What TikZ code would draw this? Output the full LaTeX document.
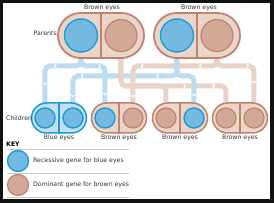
\documentclass[tikz,border=0pt]{standalone}
\usepackage{fontspec}
\setmainfont{DejaVu Sans}
\usetikzlibrary{
	arrows.meta, shapes.misc, backgrounds, decorations.markings
}
\definecolor{frameblack}{RGB}{17, 17, 17}
\definecolor{capbeige}  {RGB}{234, 214, 200}
\definecolor{capbrown}  {RGB}{192, 131, 112}
\definecolor{genebrown} {RGB}{210, 168, 150}
\definecolor{geneblue}  {RGB}{116, 185, 224}
\definecolor{edgeblue}  {RGB}{ 30, 154, 214}
\definecolor{capblue}   {RGB}{196, 224, 243}
\definecolor{wayblue}   {RGB}{188, 220, 241}
\definecolor{waybrown}  {RGB}{231, 211, 200}
\definecolor{textgray}  {RGB}{ 50,  50,  50}
\definecolor{rulegray}  {RGB}{200, 200, 200}

\tikzset{
	lbl/.style={font=\fontsize{6.2}{7}\selectfont, text=textgray, inner sep=0pt},
	parent/.style={rounded rectangle, draw=capbrown, fill=capbeige, line width=1.8pt,
		minimum width=86pt, minimum height=45pt, inner sep=0pt},
	kid/.style={parent, minimum width=55pt, minimum height=30pt, line width=1.5pt},
	bluekid/.style={kid, draw=edgeblue, fill=capblue},
	browngene/.style={circle, draw=capbrown, fill=genebrown, line width=1.2pt, inner sep=0pt, minimum size=#1},
	bluegene/.style={circle, draw=edgeblue, fill=geneblue, line width=1.4pt, inner sep=0pt, minimum size=#1},
	blueway/.style={draw=wayblue, line width=5pt, rounded corners=5pt},
	brownway/.style={draw=waybrown, line width=5pt, rounded corners=5pt},
	tip/.style={postaction={decorate, decoration={markings, mark=at position #1 with
		{\draw[white, line width=1pt, rounded corners=0pt, sharp corners]
			(-1pt,2pt) -- (0.8pt,0pt) -- (-1pt,-2pt);}}}},
	keyrule/.style={draw=rulegray, line width=0.6pt}
}

\begin{document}
\begin{tikzpicture}[x=1pt, y=-1pt]
	\useasboundingbox (0,0) rectangle (274,203);

	% parents
	\node[parent] (par1) at (101,35.5) {};
	\node[parent] (par2) at (197,35.5) {};
	\draw[capbrown, line width=1.5pt] (par1.north) -- (par1.south);
	\draw[capbrown, line width=1.5pt] (par2.north) -- (par2.south);
	\node[bluegene=33pt] (p1l) at (81,35.5) {};
	\node[browngene=32pt] (p1r) at (121,35.5) {};
	\node[bluegene=33pt] (p2l) at (177,35.5) {};
	\node[browngene=32pt] (p2r) at (217,35.5) {};
	\node[lbl] (par1t) at (102,8) {Brown eyes};
	\node[lbl] (par2t) at (199,8) {Brown eyes};
	\node[lbl, anchor=east] (parlbl) at (57,33) {Parents};

	% children
	\node[bluekid] (kid1) at (59,118) {};
	\node[kid] (kid2) at (119,118) {};
	\node[kid] (kid3) at (180,118) {};
	\node[kid] (kid4) at (240,118) {};
	\foreach \k in {1,...,4}
		\draw[capbrown, line width=1.2pt] (kid\k.north) -- (kid\k.south);
	\draw[edgeblue, line width=1.2pt] (kid1.north) -- (kid1.south);
	\node[bluegene=20pt] (c1l) at (45,118) {};
	\node[bluegene=20pt] (c1r) at (73,118) {};
	\node[bluegene=20pt] (c2l) at (105,118) {};
	\node[browngene=20pt] (c2r) at (133,118) {};
	\node[browngene=20pt] (c3l) at (166,118) {};
	\node[bluegene=20pt] (c3r) at (194,118) {};
	\node[browngene=20pt] (c4l) at (226,118) {};
	\node[browngene=20pt] (c4r) at (254,118) {};
	\node[lbl] (kid1t) at (59,138) {Blue eyes};
	\node[lbl] (kid2t) at (119,138) {Brown eyes};
	\node[lbl] (kid3t) at (180,138) {Brown eyes};
	\node[lbl] (kid4t) at (240,138) {Brown eyes};
	\node[lbl, anchor=west] (kidlbl) at (6,118) {Children};

	% key
	\node[lbl, anchor=west, font=\fontsize{6.2}{7}\selectfont\bfseries, text=black] (keyt) at (6,144) {KEY};
	\draw[keyrule] (7,149) -- (129,149);
	\draw[keyrule] (7,173) -- (129,173);
	\draw[keyrule] (7,197.5) -- (129,197.5);
	\node[bluegene=21pt] (keyb) at (18,161) {};
	\node[browngene=21pt] (keyr) at (18,185) {};
	\node[lbl, anchor=west] (keybt) at (33,161) {Recessive gene for blue eyes};
	\node[lbl, anchor=west] (keyrt) at (33,185) {Dominant gene for brown eyes};

	\begin{scope}[on background layer]
		\fill[frameblack] (0,0) rectangle (274,203);
		\fill[white] (3,3) rectangle (270,199);
		\coordinate (lvA) at (0,66);
		\coordinate (lvB) at (0,76);
		\coordinate (lvC) at (0,86);
		% genes passed down
		\draw[blueway, tip=54pt, tip=80pt] (p1l.center) |- (c1l |- lvA) -- (c1l.center);
		\draw[blueway, tip=47pt, tip=78pt] (p1l.center) |- (c2l |- lvA) -- (c2l.center);
		\draw[blueway, tip=58pt, tip=133pt, tip=160pt] (p2l.center) |- (c1r |- lvB) -- (c1r.center);
		\draw[brownway, tip=69pt, tip=108pt] (p1r.center) |- (c3l |- lvC) -- (c3l.center);
		\draw[brownway, tip=112pt, tip=141pt, tip=168pt] (p1r.center) |- (c4l |- lvC) -- (c4l.center);
		\draw[brownway, tip=45pt, tip=103pt, tip=140pt] (p2r.center) |- (c2r |- lvA) -- (c2r.center);
		\draw[brownway, tip=59pt, tip=79pt] (p2r.center) |- (c4r |- lvA) -- (c4r.center);
		\draw[blueway, tip=72pt] (p2l.center) |- (c3r |- lvB) -- (c3r.center);
	\end{scope}
\end{tikzpicture}
\end{document}
